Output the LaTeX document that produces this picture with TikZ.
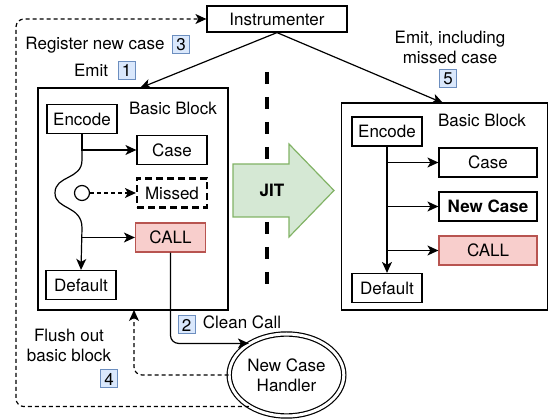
\documentclass[tikz,border=0pt]{standalone}
\usepackage{fontspec}
\setmainfont{TeX Gyre Heros}
\usetikzlibrary{arrows.meta,shapes.geometric}
\definecolor{callfill}{HTML}{F8CECC}
\definecolor{callline}{HTML}{B85450}
\definecolor{jitfill}{HTML}{D5E8D4}
\definecolor{jitline}{HTML}{82B366}
\definecolor{tagfill}{HTML}{DAE8FC}
\definecolor{tagline}{HTML}{6C8EBF}
\tikzset{
  blk/.style={draw, fill=white, minimum width=70pt, minimum height=29pt, inner sep=0pt},
  callblk/.style={blk, draw=callline, fill=callfill},
  tag/.style={draw=tagline, fill=tagfill, line width=1pt, minimum width=17pt, minimum height=18pt, inner sep=0pt},
  thin dash/.style={dash pattern=on 4pt off 3pt}
}

\begin{document}
\begin{tikzpicture}[x=1pt,y=-1pt,line width=1.2pt,font=\fontsize{17}{20}\selectfont,>={Stealth[length=11pt,width=10pt,inset=3pt]}]
\useasboundingbox (0,0) rectangle (549,419);

% separator and JIT arrow
\draw[line width=4pt,dash pattern=on 12pt off 13pt] (267,72) -- (267,295);
\filldraw[draw=jitline,fill=jitfill] (233,164) -- (289,164) -- (289,144) -- (334,190.5) -- (289,237) -- (289,217) -- (233,217) -- cycle;
\node[font=\fontsize{17}{20}\selectfont\bfseries] (jit) at (272,190.5) {JIT};

\node[blk,minimum width=140pt,minimum height=26pt] (instr) at (277,19) {Instrumenter};

% left basic block
\node[draw,minimum width=190pt,minimum height=222pt] (bbL) at (133,199) {};
\node (bbLtitle) at (173,108) {Basic Block};
\node[blk] (encL) at (82,119) {Encode};
\node[blk] (caseL) at (172,150) {Case};
\node[blk,line width=2.2pt,dash pattern=on 7pt off 4pt] (missL) at (172,193) {Missed};
\node[callblk] (callL) at (170.5,237.5) {CALL};
\node[blk] (defL) at (81,285) {Default};
\node[draw,circle,minimum size=15pt,inner sep=0pt] (miss) at (82,193) {};

% right basic block
\node[draw,minimum width=206pt,minimum height=207pt] (bbR) at (444.5,206.5) {};
\node (bbRtitle) at (482,120) {Basic Block};
\node[blk] (encR) at (387,131.5) {Encode};
\node[blk,minimum width=98pt] (caseR) at (488,162.5) {Case};
\node[blk,minimum width=98pt,font=\fontsize{17}{20}\selectfont\bfseries] (newR) at (488,206.5) {New Case};
\node[callblk,minimum width=98pt] (callR) at (488,250.5) {CALL};
\node[blk] (defR) at (387,288) {Default};

\node[draw,double,double distance=3pt,ellipse,fill=white,minimum width=114.6pt,minimum height=82pt,inner sep=0pt,align=center] (handler) at (286.5,375) {New Case\\Handler};

% labels
\node (regtxt) at (95,45) {Register new case};
\node[tag] (t3) at (181,45) {3};
\node (emittxt) at (91,70) {Emit};
\node[tag] (t1) at (126.5,70.5) {1};
\node (cleantxt) at (242,322) {Clean Call};
\node[tag] (t2) at (186.5,325) {2};
\node[align=center] (flushtxt) at (69,345) {Flush out\\basic block};
\node[tag] (t4) at (109,379) {4};
\node[align=center] (emit5txt) at (450,47) {Emit, including\\missed case};
\node[tag] (t5) at (448,79) {5};

\coordinate (emitL) at (140,88);
\coordinate (emitR) at (443,103);
\coordinate (flushIn) at (134,310);
\coordinate (regC) at (16,19);

% connectors
\draw[->] (instr.south) -- (emitL);
\draw[->] (instr.south) -- (emitR);
\draw[->] (encL.south) |- (caseL.west);
\draw[->] (encL.south) -- (82,160) .. controls (82,180) and (55,175) .. (55,193) .. controls (55,210) and (82,205) .. (82,228) -- (defL.north);
\draw[->] (encL.south |- callL.west) -- (callL.west);
\draw[thin dash,->] (miss) -- (missL.west);
\draw[->,rounded corners=8pt] (callL.south) |- (handler.140);
\draw[thin dash,->,rounded corners=8pt] (handler.west) -| (flushIn);
\draw[thin dash,->,rounded corners=8pt] (handler.220) -| (regC) -- (instr.west);

\draw[->] (encR.south) -- (defR.north);
\foreach \b in {caseR,newR,callR}
  \draw[->] (encR.south |- \b.west) -- (\b.west);
\end{tikzpicture}
\end{document}
